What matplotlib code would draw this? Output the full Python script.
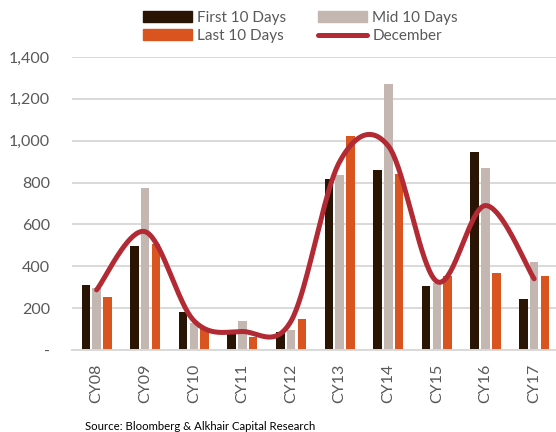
import numpy as np
import matplotlib
matplotlib.use("Agg")
import matplotlib.pyplot as plt
from matplotlib.lines import Line2D
from matplotlib.patches import Patch

categories = ["CY08", "CY09", "CY10", "CY11", "CY12", "CY13", "CY14", "CY15", "CY16", "CY17"]
first_10 = [310, 495, 180, 76, 88, 818, 860, 307, 947, 242]
mid_10 = [295, 775, 129, 138, 95, 838, 1271, 320, 871, 419]
last_10 = [255, 505, 100, 64, 147, 1021, 842, 353, 369, 355]
december = [287, 565, 140, 88, 138, 900, 975, 327, 690, 340]
yticks = [0, 200, 400, 600, 800, 1000, 1200, 1400]
ytick_labels = ["-", "200", "400", "600", "800", "1,000", "1,200", "1,400"]

c_first = "#2A1505"
c_mid = "#C4B6B0"
c_last = "#D9541E"
c_line = "#B22A33"
c_text = "#595959"
c_grid = "#D9D9D9"

plt.rcParams["font.family"] = ["Lato", "DejaVu Sans"]


def smooth_curve(x, y, n=40):
    """Catmull-Rom style smoothing through the given points (cubic Bezier segments)."""
    x = np.asarray(x, float)
    y = np.asarray(y, float)
    pts = np.column_stack([x, y])
    out = []
    for i in range(len(pts) - 1):
        p0 = pts[i - 1] if i > 0 else pts[i]
        p1 = pts[i]
        p2 = pts[i + 1]
        p3 = pts[i + 2] if i + 2 < len(pts) else pts[i + 1]
        c1 = p1 + (p2 - p0) / 6.0
        c2 = p2 - (p3 - p1) / 6.0
        t = np.linspace(0, 1, n)[:, None]
        seg = ((1 - t) ** 3) * p1 + 3 * ((1 - t) ** 2) * t * c1 + 3 * (1 - t) * t ** 2 * c2 + t ** 3 * p2
        out.append(seg if i == 0 else seg[1:])
    seg = np.vstack(out)
    return seg[:, 0], seg[:, 1]


fig = plt.figure(figsize=(5.56, 4.32), dpi=100)
ax = fig.add_axes([0.130, 0.190, 0.870, 0.678])

x = np.arange(len(categories))
w = 0.175
off = 0.222
ax.bar(x - off, first_10, width=w, color=c_first, zorder=2)
ax.bar(x, mid_10, width=w, color=c_mid, zorder=2)
ax.bar(x + off, last_10, width=w, color=c_last, zorder=2)

sx, sy = smooth_curve(x, december)
ax.plot(sx, sy, color=c_line, lw=3.6, solid_capstyle="round", zorder=3)

ax.set_xlim(-0.5, 9.45)
ax.set_ylim(0, 1400)
ax.set_yticks(yticks)
ax.set_yticklabels(ytick_labels)
ax.set_xticks(x)
ax.set_xticklabels(categories, rotation=90)
ax.yaxis.grid(True, color=c_grid, lw=1.4, zorder=0)
ax.set_axisbelow(True)
for s in ["top", "right", "left"]:
    ax.spines[s].set_visible(False)
ax.spines["bottom"].set_color(c_grid)
ax.spines["bottom"].set_linewidth(1.4)
ax.tick_params(axis="both", length=0, colors=c_text, labelsize=11.5)
ax.tick_params(axis="y", pad=16)
ax.tick_params(axis="x", pad=10)

handles = [
    Patch(color=c_first, label="First 10 Days"),
    Patch(color=c_mid, label="Mid 10 Days"),
    Patch(color=c_last, label="Last 10 Days"),
    Line2D([0], [0], color=c_line, lw=3.6, solid_capstyle="round", label="December"),
]
order = [handles[0], handles[2], handles[1], handles[3]]
leg = fig.legend(handles=order, ncol=2, loc="upper left", bbox_to_anchor=(0.232, 1.006),
                 frameon=False, fontsize=11, handlelength=3.2, handleheight=0.75,
                 columnspacing=2.1, handletextpad=0.35, labelspacing=0.25,
                 labelcolor=c_text)

fig.text(85 / 556, 1 - 426 / 432, "Source: Bloomberg & Alkhair Capital Research",
         fontsize=8.2, color="#000000", va="center", ha="left")

fig.savefig("out.png", dpi=100)
